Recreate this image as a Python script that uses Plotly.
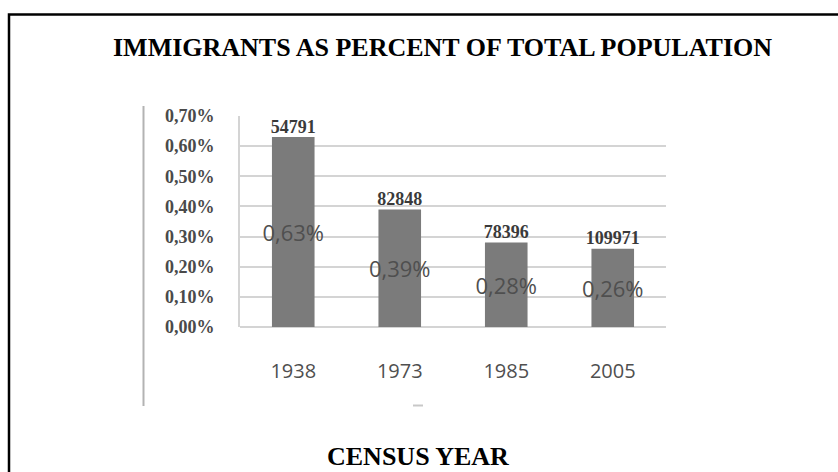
import plotly.graph_objects as go

# Census data: immigrants as share of total population
years = ["1938", "1973", "1985", "2005"]
share = [0.0063, 0.0039, 0.0028, 0.0026]          # fraction of population
immigrants = [54791, 82848, 78396, 109971]        # absolute counts
y_ticks = [0, 0.001, 0.002, 0.003, 0.004, 0.005, 0.006, 0.007]

W, H = 838, 472
L, R, T, B = 240, 666, 116, 327   # plot area in pixels


def px(x):
    return (x - L) / (R - L)


def py(y):
    return (B - y) / (B - T)


pct_text = [f"{v * 100:.2f}".replace(".", ",") + "%" for v in share]

fig = go.Figure()
fig.add_trace(go.Bar(
    x=years, y=share,
    marker=dict(color="#7b7b7b", line=dict(width=0)),
    text=pct_text, textposition="inside", insidetextanchor="middle",
    textangle=0, constraintext="none",
    textfont=dict(family="Open Sans", size=22, color="#4f4f4f"),
    hoverinfo="skip",
))
fig.add_trace(go.Scatter(
    x=years, y=share, mode="text",
    text=[str(n) for n in immigrants], textposition="top center",
    textfont=dict(family="Liberation Serif", size=18, color="#3a3a3a", weight="bold"),
    hoverinfo="skip", cliponaxis=False,
))

shapes = [
    # outer frame (right and bottom edges fall outside the page)
    dict(type="rect", xref="paper", yref="paper",
         x0=px(9), x1=px(850), y0=py(485), y1=py(14.5),
         line=dict(color="black", width=2.5), fillcolor="rgba(0,0,0,0)"),
    # grey rule left of the value axis
    dict(type="line", xref="paper", yref="paper",
         x0=px(143.5), x1=px(143.5), y0=py(106), y1=py(406),
         line=dict(color="#b3b3b3", width=2)),
    # small dash below the category axis
    dict(type="line", xref="paper", yref="paper",
         x0=px(413), x1=px(423), y0=py(405.5), y1=py(405.5),
         line=dict(color="#c8c8c8", width=2)),
]

annotations = [
    dict(text="<b>IMMIGRANTS AS PERCENT OF TOTAL POPULATION</b>",
         xref="paper", yref="paper", x=px(442), y=py(47),
         xanchor="center", yanchor="middle", showarrow=False,
         font=dict(family="Liberation Serif", size=26, color="black")),
    dict(text="<b>CENSUS YEAR</b>",
         xref="paper", yref="paper", x=px(418), y=py(456),
         xanchor="center", yanchor="middle", showarrow=False,
         font=dict(family="Liberation Serif", size=26, color="black")),
]

fig.update_layout(
    width=W, height=H,
    margin=dict(l=L, r=W - R, t=T, b=H - B, pad=0),
    paper_bgcolor="white", plot_bgcolor="white",
    separators=",.",
    bargap=0.6,
    showlegend=False,
    shapes=shapes,
    annotations=annotations,
    xaxis=dict(
        type="category", showgrid=False, zeroline=False, showline=False,
        ticks="", ticklabelstandoff=30,
        tickfont=dict(family="Open Sans", size=20, color="#4f4f4f"),
        fixedrange=True,
    ),
    yaxis=dict(
        range=[0, 0.007], tickvals=y_ticks, tickformat=".2%",
        showgrid=True, gridcolor="#d4d4d4", gridwidth=2,
        zeroline=True, zerolinecolor="#d4d4d4", zerolinewidth=2,
        showline=True, linecolor="#d4d4d4", linewidth=2,
        ticks="", ticklabelstandoff=20,
        tickfont=dict(family="Liberation Serif", size=18, color="#4a4a4a", weight="bold"),
        fixedrange=True,
    ),
)

fig.write_html("out.html", config={"displayModeBar": False})
